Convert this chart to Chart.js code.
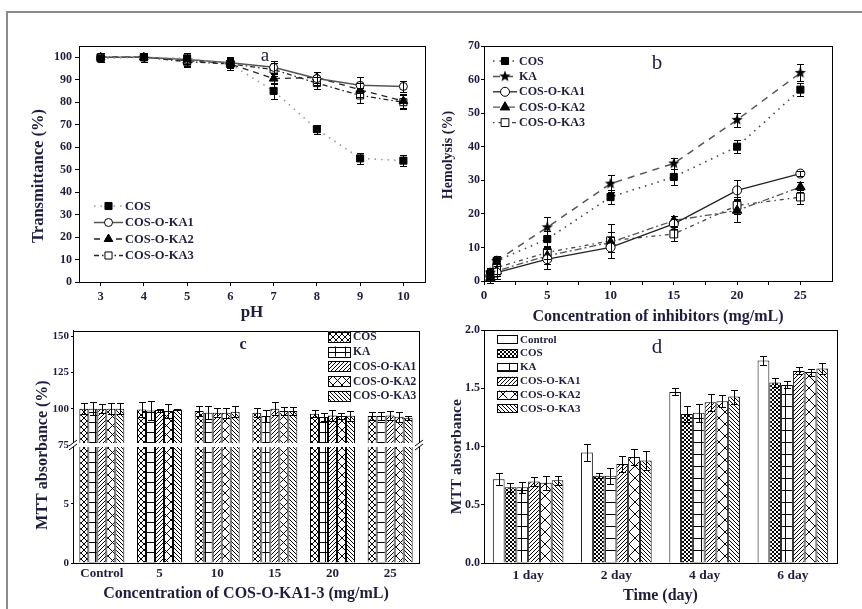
<!DOCTYPE html>
<html>
<head>
<meta charset="utf-8">
<title>COS-O-KA properties</title>
<script src="https://cdn.jsdelivr.net/npm/chart.js@4.4.1/dist/chart.umd.min.js"></script>
<style>
  body { margin: 0; background: #fff; }
  #fig { position: relative; width: 862px; height: 609px; overflow: hidden; }
  #fig canvas { position: absolute; }
  #frame { position: absolute; left: 6px; top: 11px; width: 900px; height: 700px;
           border-left: 2px solid #8c8c8c; border-top: 2px solid #8c8c8c; }
</style>
</head>
<body>
<div id="fig">
  <div id="frame"></div>
  <canvas id="chartA" width="431" height="322" style="left:0;top:0"></canvas>
  <canvas id="chartB" width="431" height="330" style="left:431px;top:0"></canvas>
  <canvas id="chartC" width="431" height="287" style="left:0;top:322px"></canvas>
  <canvas id="chartD" width="431" height="287" style="left:431px;top:322px"></canvas>
</div>
<script>
// (a) transmittance vs pH
const phValues = [3, 4, 5, 6, 7, 8, 9, 10];
const transTicks = [0, 10, 20, 30, 40, 50, 60, 70, 80, 90, 100];
const transCOS = [99.5, 100, 99.5, 97, 85, 68, 55, 54];
const transKA1 = [100, 100, 99, 97.5, 95.5, 90.5, 87.5, 87];
const transKA2 = [100, 100, 98.5, 97, 90.5, 91, 85.5, 80.5];
const transKA3 = [100, 100, 98, 97, 94.5, 88.5, 83, 80];
const transErrCOS = [1.5, 2, 2.5, 2, 3.5, 2, 2.4, 2.4];
const transErrKA1 = [2, 2, 2, 2.5, 3, 3, 3.5, 2.5];
const transErrKA2 = [2, 2, 2.5, 2.5, 2.5, 2.5, 3, 3];
const transErrKA3 = [2, 2, 2.5, 2.5, 3, 2.5, 3.5, 3];

// (b) hemolysis vs concentration
const concValues = [0.5, 1, 5, 10, 15, 20, 25];
const concTicks = [0, 2.5, 5, 7.5, 10, 12.5, 15, 17.5, 20, 22.5, 25];
const hemoTicks = [0, 10, 20, 30, 40, 50, 60, 70];
const hemoCOS = [2, 6, 12.5, 25, 31, 40, 57];
const hemoKA = [2.5, 6, 16, 29, 35, 48, 62];
const hemoKA1 = [1.5, 2.5, 6.5, 10, 17, 27, 32];
const hemoKA2 = [1, 3, 7.5, 11.5, 18, 21, 28];
const hemoKA3 = [2, 4, 8.5, 12, 14, 22.5, 25];
const hemoErrCOS = [1.5, 1.5, 2.5, 2, 2.5, 2, 2];
const hemoErrKA = [1.5, 1.5, 3, 2.5, 1.5, 2, 2.5];
const hemoErrKA1 = [2, 2, 3, 3, 1.5, 3, 0.8];
const hemoErrKA2 = [1.5, 1.5, 2.5, 3, 1.5, 3.5, 1.5];
const hemoErrKA3 = [2, 2, 2, 5, 2, 2.5, 2];

// (c) MTT absorbance (%) vs concentration of COS-O-KA1-3
const mttCategories = ['Control', '5', '10', '15', '20', '25'];
const mttLowTicks = [0, 5];
const mttHighTicks = [75, 100, 125, 150];
const mttCOS = [100, 99.5, 98.4, 97.2, 96.5, 94.9];
const mttKA = [100, 98.8, 97.2, 94.9, 94.2, 94.9];
const mttKA1 = [100, 99, 97.2, 100, 95.3, 95.3];
const mttKA2 = [100, 98.4, 97.2, 98.4, 94.9, 94.4];
const mttKA3 = [100, 99.5, 97.9, 98.4, 95.1, 93.7];
const mttErrCOS = [3.6, 5.4, 3.4, 3.3, 2.3, 2.5];
const mttErrKA = [4.4, 6.4, 4.6, 4.4, 3, 2.5];
const mttErrKA1 = [3.2, 1, 3, 4.4, 3.5, 3];
const mttErrKA2 = [3.9, 4.6, 3.5, 3, 2, 3.5];
const mttErrKA3 = [3.9, 0.5, 4, 3, 3.5, 1.5];
const breakLowMax = 10;
const breakHighMin = 75;

// (d) MTT absorbance vs time
const dayCategories = ['1 day', '2 day', '4 day', '6 day'];
const absTicks = [0, 0.5, 1, 1.5, 2];
const absControl = [0.72, 0.95, 1.47, 1.74];
const absCOS = [0.65, 0.75, 1.28, 1.55];
const absKA = [0.65, 0.75, 1.29, 1.53];
const absKA1 = [0.70, 0.85, 1.38, 1.65];
const absKA2 = [0.69, 0.91, 1.39, 1.64];
const absKA3 = [0.71, 0.88, 1.43, 1.67];
const absErrControl = [0.05, 0.07, 0.03, 0.04];
const absErrCOS = [0.04, 0.02, 0.07, 0.04];
const absErrKA = [0.05, 0.07, 0.08, 0.03];
const absErrKA1 = [0.04, 0.07, 0.07, 0.03];
const absErrKA2 = [0.06, 0.07, 0.05, 0.03];
const absErrKA3 = [0.04, 0.08, 0.06, 0.05];

const SERIF = "'Liberation Serif', 'Times New Roman', serif";
const INK = '#1e1e3c';

Chart.defaults.font.family = SERIF;
Chart.defaults.font.weight = 'bold';
Chart.defaults.font.size = 12;
Chart.defaults.color = INK;
Chart.defaults.animation = false;
Chart.defaults.plugins.legend.display = false;
Chart.defaults.plugins.tooltip.enabled = false;

// hatch fills
function makePattern(kind, size) {
  const c = document.createElement('canvas');
  const w = size, h = size;
  c.width = w; c.height = h;
  const g = c.getContext('2d');
  g.fillStyle = '#fff';
  g.fillRect(0, 0, w, h);
  g.strokeStyle = '#000';
  g.lineWidth = 1;
  g.beginPath();
  if (kind === 'cross') {
    g.moveTo(0, 0); g.lineTo(w, h);
    g.moveTo(w, 0); g.lineTo(0, h);
  } else if (kind === 'slash') {
    g.moveTo(-1, h + 1); g.lineTo(w + 1, -1);
    g.moveTo(-1, 1); g.lineTo(1, -1);
    g.moveTo(w - 1, h + 1); g.lineTo(w + 1, h - 1);
  } else if (kind === 'back') {
    g.moveTo(-1, -1); g.lineTo(w + 1, h + 1);
    g.moveTo(w - 1, -1); g.lineTo(w + 1, 1);
    g.moveTo(-1, h - 1); g.lineTo(1, h + 1);
  } else if (kind === 'grid') {
    g.moveTo(0, 0.5); g.lineTo(w, 0.5);
    g.moveTo(Math.floor(w / 2) + 0.5, 0); g.lineTo(Math.floor(w / 2) + 0.5, h);
  }
  g.stroke();
  return g.createPattern(c, 'repeat');
}

function makeStar(r) {
  const c = document.createElement('canvas');
  c.width = c.height = 2 * r + 2;
  const g = c.getContext('2d');
  g.fillStyle = '#000';
  g.beginPath();
  for (let k = 0; k < 10; k++) {
    const rad = k % 2 ? r * 0.42 : r;
    const a = -Math.PI / 2 + k * Math.PI / 5;
    g.lineTo(r + 1 + rad * Math.cos(a), r + 1 + rad * Math.sin(a));
  }
  g.closePath();
  g.fill();
  return c;
}
const starMark = makeStar(6);

function drawMarker(ctx, ds, x, y) {
  const r = ds.pointRadius, st = ds.pointStyle;
  if (typeof st !== 'string') {
    ctx.drawImage(st, x - st.width / 2, y - st.height / 2);
    return;
  }
  ctx.save();
  ctx.setLineDash([]);
  ctx.fillStyle = ds.pointBackgroundColor;
  ctx.strokeStyle = ds.pointBorderColor;
  ctx.lineWidth = ds.pointBorderWidth;
  ctx.beginPath();
  if (st === 'circle') {
    ctx.arc(x, y, r, 0, Math.PI * 2);
  } else if (st === 'rect') {
    const s = r * Math.SQRT1_2;
    ctx.rect(x - s, y - s, 2 * s, 2 * s);
  } else if (st === 'triangle') {
    for (let k = 0; k < 3; k++) {
      const a = k * 2 * Math.PI / 3;
      ctx.lineTo(x + Math.sin(a) * r, y - Math.cos(a) * r);
    }
    ctx.closePath();
  }
  ctx.fill();
  ctx.stroke();
  ctx.restore();
}

// plot box around the chart area
const framePlugin = {
  id: 'frame',
  afterDraw(chart) {
    const a = chart.chartArea, ctx = chart.ctx;
    ctx.save();
    ctx.strokeStyle = '#000';
    ctx.lineWidth = 1;
    ctx.strokeRect(Math.round(a.left) + 0.5, Math.round(a.top) + 0.5,
      Math.round(a.right - a.left), Math.round(a.bottom - a.top));
    ctx.restore();
  }
};

const errorBarPlugin = {
  id: 'errorBars',
  afterDatasetsDraw(chart, args, opts) {
    const ctx = chart.ctx;
    chart.data.datasets.forEach((ds, i) => {
      if (!ds.errors) return;
      const meta = chart.getDatasetMeta(i);
      const yScale = chart.scales[meta.yAxisID];
      const c = opts.cap / 2;
      ctx.save();
      ctx.strokeStyle = '#000';
      ctx.lineWidth = 1;
      ctx.setLineDash([]);
      meta.data.forEach((el, j) => {
        const raw = ds.data[j];
        const v = typeof raw === 'object' ? raw.y : raw;
        const e = ds.errors[j];
        const x = Math.round(el.x) + 0.5;
        const yHi = Math.round(yScale.getPixelForValue(v + e)) + 0.5;
        const yLo = Math.round(yScale.getPixelForValue(v - e)) + 0.5;
        ctx.beginPath();
        ctx.moveTo(x, yHi); ctx.lineTo(x, yLo);
        ctx.moveTo(x - c, yHi); ctx.lineTo(x + c, yHi);
        ctx.moveTo(x - c, yLo); ctx.lineTo(x + c, yLo);
        ctx.stroke();
      });
      ctx.restore();
    });
  }
};

const legendPlugin = {
  id: 'panelLegend',
  afterDraw(chart, args, o) {
    const ctx = chart.ctx;
    ctx.save();
    ctx.font = 'bold ' + o.size + 'px ' + SERIF;
    ctx.textBaseline = 'middle';
    o.items.forEach((idx, k) => {
      const ds = chart.data.datasets[idx];
      const y = o.y + k * o.gap;
      if (o.kind === 'line') {
        ctx.save();
        ctx.strokeStyle = ds.borderColor;
        ctx.lineWidth = ds.borderWidth;
        ctx.setLineDash(ds.borderDash);
        ctx.beginPath();
        ctx.moveTo(o.x, y); ctx.lineTo(o.x + o.len, y);
        ctx.stroke();
        ctx.restore();
        drawMarker(ctx, ds, o.x + o.len / 2, y);
        ctx.fillStyle = INK;
        ctx.fillText(ds.label, o.x + o.len + 2, y + 0.5);
      } else {
        ctx.fillStyle = ds.backgroundColor;
        ctx.fillRect(o.x, y - o.boxH / 2, o.boxW, o.boxH);
        ctx.strokeStyle = '#000';
        ctx.lineWidth = 1;
        ctx.strokeRect(Math.round(o.x) + 0.5, Math.round(y - o.boxH / 2) + 0.5, o.boxW, o.boxH);
        ctx.fillStyle = INK;
        ctx.fillText(ds.label, o.x + o.boxW + 3, y + 0.5);
      }
    });
    ctx.restore();
  }
};

// panel letter and rotated y title
const textPlugin = {
  id: 'panelText',
  afterDraw(chart, args, o) {
    const ctx = chart.ctx;
    ctx.save();
    ctx.fillStyle = INK;
    ctx.textAlign = 'center';
    ctx.textBaseline = 'middle';
    ctx.font = o.letterFont + ' ' + SERIF;
    ctx.fillText(o.letter, o.lx, o.ly);
    ctx.translate(o.tx, o.ty);
    ctx.rotate(-Math.PI / 2);
    ctx.font = 'bold ' + o.titleSize + 'px ' + SERIF;
    ctx.fillText(o.title, 0, 0);
    ctx.restore();
  }
};

// white gap and slash marks of the broken y axis
const breakPlugin = {
  id: 'axisBreak',
  afterDraw(chart) {
    const ctx = chart.ctx, a = chart.chartArea;
    const y = Math.round(chart.scales.yTop.bottom);
    ctx.save();
    ctx.fillStyle = '#fff';
    ctx.fillRect(a.left - 4, y - 2, a.right - a.left + 8, 4);
    ctx.strokeStyle = '#000';
    ctx.lineWidth = 1;
    ctx.beginPath();
    [a.left, a.right].forEach(x => {
      [-2, 2].forEach(d => {
        ctx.moveTo(x - 4, y + d + 3);
        ctx.lineTo(x + 4, y + d - 3);
      });
    });
    ctx.stroke();
    ctx.restore();
  }
};

function axis(o) {
  return {
    type: 'linear', position: o.position, min: o.min, max: o.max,
    stack: o.stack, stackWeight: o.weight, stacked: false,
    grid: { drawOnChartArea: false, drawTicks: true, tickLength: o.tick || 4, color: '#000' },
    border: { color: '#000', width: 1 },
    ticks: { padding: o.pad == null ? 3 : o.pad, font: { size: o.fs || 12 },
             color: INK, autoSkip: false, maxRotation: 0, callback: o.cb },
    title: o.title ? { display: true, text: o.title, color: INK,
             font: { size: o.tfs || 16, lineHeight: 1 }, padding: { top: 0, bottom: o.tpad } }
           : { display: false },
    afterBuildTicks: s => { s.ticks = o.ticks.map(v => ({ value: v })); },
    afterFit: s => { if (s.isHorizontal()) s.height = o.size; else s.width = o.size; }
  };
}

function catAxis(labels, fs, pad, title, tpad) {
  return {
    type: 'category', labels: labels, offset: true,
    grid: { display: false, drawTicks: false },
    border: { color: '#000', width: 1 },
    ticks: { font: { size: fs }, padding: pad, color: INK, maxRotation: 0, autoSkip: false },
    title: { display: true, text: title, color: INK, font: { size: 16, lineHeight: 1 }, padding: { top: 0, bottom: tpad } },
    afterFit: s => { s.height = 46; }
  };
}

function lineSet(label, xs, ys, errs, st) {
  return {
    label: label,
    data: xs.map((x, i) => ({ x: x, y: ys[i] })),
    errors: errs,
    borderColor: st.line, borderWidth: st.width, borderDash: st.dash,
    pointStyle: st.point, pointRadius: st.r, pointBackgroundColor: st.fill,
    pointBorderColor: '#000', pointBorderWidth: 1, tension: 0, fill: false
  };
}

function barSet(label, values, errs, fill, extra) {
  return Object.assign({
    label: label, data: values, errors: errs, backgroundColor: fill,
    borderColor: '#000', borderWidth: 1, borderSkipped: 'start',
    categoryPercentage: 0.8, barPercentage: 1
  }, extra || {});
}

// ---------- (a)
new Chart(document.getElementById('chartA'), {
  type: 'line',
  data: {
    datasets: [
      lineSet('COS', phValues, transCOS, transErrCOS, { line: '#9a9a9a', width: 1.6, dash: [1.5, 5], point: 'rect', r: 5, fill: '#000' }),
      lineSet('COS-O-KA1', phValues, transKA1, transErrKA1, { line: '#555', width: 1.5, dash: [], point: 'circle', r: 4, fill: '#fff' }),
      lineSet('COS-O-KA2', phValues, transKA2, transErrKA2, { line: '#222', width: 1.3, dash: [6, 5], point: 'triangle', r: 5, fill: '#000' }),
      lineSet('COS-O-KA3', phValues, transKA3, transErrKA3, { line: '#222', width: 1.3, dash: [5, 3, 1.5, 3], point: 'rect', r: 5, fill: '#fff' })
    ]
  },
  options: {
    responsive: false,
    layout: { padding: { top: 46, right: 4, left: 0, bottom: 0 } },
    scales: {
      x: axis({ position: 'bottom', min: 2.5, max: 10.5, ticks: phValues, fs: 12.5,
                size: 40, title: 'pH', tfs: 17, tpad: 0.5 }),
      y: axis({ position: 'left', min: 0, max: 105, ticks: transTicks, fs: 12, size: 79 })
    },
    plugins: {
      errorBars: { cap: 7 },
      panelLegend: { kind: 'line', x: 94, y: 206, gap: 16.5, len: 29, size: 12.5, items: [0, 1, 2, 3] },
      panelText: { letter: 'a', lx: 265, ly: 56, letterFont: 'normal 19px', title: 'Transmittance (%)', tx: 39, ty: 176, titleSize: 16.5 }
    }
  },
  plugins: [framePlugin, errorBarPlugin, legendPlugin, textPlugin]
});

// ---------- (b)
new Chart(document.getElementById('chartB'), {
  type: 'line',
  data: {
    datasets: [
      lineSet('COS', concValues, hemoCOS, hemoErrCOS, { line: '#444', width: 1.6, dash: [1.5, 5], point: 'rect', r: 5, fill: '#000' }),
      lineSet('KA', concValues, hemoKA, hemoErrKA, { line: '#555', width: 1.5, dash: [7, 6], point: starMark, r: 5, fill: '#000' }),
      lineSet('COS-O-KA1', concValues, hemoKA1, hemoErrKA1, { line: '#222', width: 1.3, dash: [], point: 'circle', r: 4.5, fill: '#fff' }),
      lineSet('COS-O-KA2', concValues, hemoKA2, hemoErrKA2, { line: '#555', width: 1.3, dash: [7, 3, 2, 3], point: 'triangle', r: 5.5, fill: '#000' }),
      lineSet('COS-O-KA3', concValues, hemoKA3, hemoErrKA3, { line: '#444', width: 1.3, dash: [1.5, 4, 4, 4], point: 'rect', r: 5.5, fill: '#fff' })
    ]
  },
  options: {
    responsive: false,
    layout: { padding: { top: 46, right: 30, left: 0, bottom: 0 } },
    scales: {
      x: axis({ position: 'bottom', min: 0, max: 27.5, ticks: concTicks, fs: 13,
                cb: v => (v % 5 === 0 ? String(v) : ''), size: 49,
                title: 'Concentration of inhibitors (mg/mL)', tfs: 16, tpad: 5 }),
      y: axis({ position: 'left', min: 0, max: 70, ticks: hemoTicks, fs: 12, tick: 3, pad: 1, size: 53 })
    },
    plugins: {
      errorBars: { cap: 7 },
      panelLegend: { kind: 'line', x: 62, y: 61, gap: 15.4, len: 24, size: 12, items: [0, 1, 2, 3, 4] },
      panelText: { letter: 'b', lx: 226, ly: 63, letterFont: 'normal 21px', title: 'Hemolysis (%)', tx: 17.5, ty: 155, titleSize: 14 }
    }
  },
  plugins: [framePlugin, errorBarPlugin, legendPlugin, textPlugin]
});

// ---------- (c) broken y axis
const patC = {
  COS: makePattern('cross', 6),
  KA: makePattern('grid', 10),
  KA1: makePattern('slash', 4),
  KA2: makePattern('cross', 9),
  KA3: makePattern('back', 4)
};
const cSeries = [
  ['COS', mttCOS, mttErrCOS, patC.COS],
  ['KA', mttKA, mttErrKA, patC.KA],
  ['COS-O-KA1', mttKA1, mttErrKA1, patC.KA1],
  ['COS-O-KA2', mttKA2, mttErrKA2, patC.KA2],
  ['COS-O-KA3', mttKA3, mttErrKA3, patC.KA3]
];
const cDatasets = [];
cSeries.forEach(s => cDatasets.push(barSet(s[0], s[1], s[2], s[3],
  { yAxisID: 'yTop', stack: s[0], base: breakHighMin, categoryPercentage: 0.78 })));
cSeries.forEach(s => cDatasets.push(barSet(s[0], s[1].map(v => Math.min(v, breakLowMax)), null, s[3],
  { yAxisID: 'yBot', stack: s[0], categoryPercentage: 0.78 })));

new Chart(document.getElementById('chartC'), {
  type: 'bar',
  data: { labels: mttCategories, datasets: cDatasets },
  options: {
    responsive: false,
    layout: { padding: { top: 7, right: 12, left: 0, bottom: 0 } },
    scales: {
      x: catAxis(mttCategories, 13, 3, 'Concentration of COS-O-KA1-3 (mg/mL)', 7),
      yBot: axis({ position: 'left', stack: 'mtt', weight: 119, min: 0, max: breakLowMax, ticks: mttLowTicks,
                   fs: 11, tick: 2, pad: 2, size: 73 }),
      yTop: axis({ position: 'left', stack: 'mtt', weight: 115, min: breakHighMin, max: 154, ticks: mttHighTicks,
                   fs: 11, tick: 2, pad: 2, size: 73 })
    },
    plugins: {
      errorBars: { cap: 7 },
      panelLegend: { kind: 'box', x: 328, y: 14.7, gap: 14.8, boxW: 22, boxH: 10, size: 11.5, items: [0, 1, 2, 3, 4] },
      panelText: { letter: 'c', lx: 243, ly: 23, letterFont: 'bold 16px', title: 'MTT absorbance (%)', tx: 43, ty: 133, titleSize: 16 }
    }
  },
  plugins: [framePlugin, errorBarPlugin, legendPlugin, breakPlugin, textPlugin]
});

// ---------- (d)
const patD = {
  COS: makePattern('cross', 4),
  KA: makePattern('grid', 12),
  KA1: makePattern('slash', 4),
  KA2: makePattern('cross', 12),
  KA3: makePattern('back', 4)
};
new Chart(document.getElementById('chartD'), {
  type: 'bar',
  data: {
    labels: dayCategories,
    datasets: [
      barSet('Control', absControl, absErrControl, '#fff'),
      barSet('COS', absCOS, absErrCOS, patD.COS),
      barSet('KA', absKA, absErrKA, patD.KA),
      barSet('COS-O-KA1', absKA1, absErrKA1, patD.KA1),
      barSet('COS-O-KA2', absKA2, absErrKA2, patD.KA2),
      barSet('COS-O-KA3', absKA3, absErrKA3, patD.KA3)
    ]
  },
  options: {
    responsive: false,
    layout: { padding: { top: 6, right: 25, left: 0, bottom: 0 } },
    scales: {
      x: catAxis(dayCategories, 13.5, 4, 'Time (day)', 5.3),
      y: axis({ position: 'left', min: 0, max: 2, ticks: absTicks, fs: 12, tick: 3, pad: 1,
                cb: v => v.toFixed(1), size: 53 })
    },
    plugins: {
      errorBars: { cap: 7 },
      panelLegend: { kind: 'box', x: 66, y: 17.3, gap: 13.8, boxW: 20, boxH: 8, size: 11, items: [0, 1, 2, 3, 4, 5] },
      panelText: { letter: 'd', lx: 226, ly: 25, letterFont: 'normal 21px', title: 'MTT absorbance', tx: 25.7, ty: 134.7, titleSize: 15.5 }
    }
  },
  plugins: [framePlugin, errorBarPlugin, legendPlugin, textPlugin]
});
</script>
</body>
</html>
